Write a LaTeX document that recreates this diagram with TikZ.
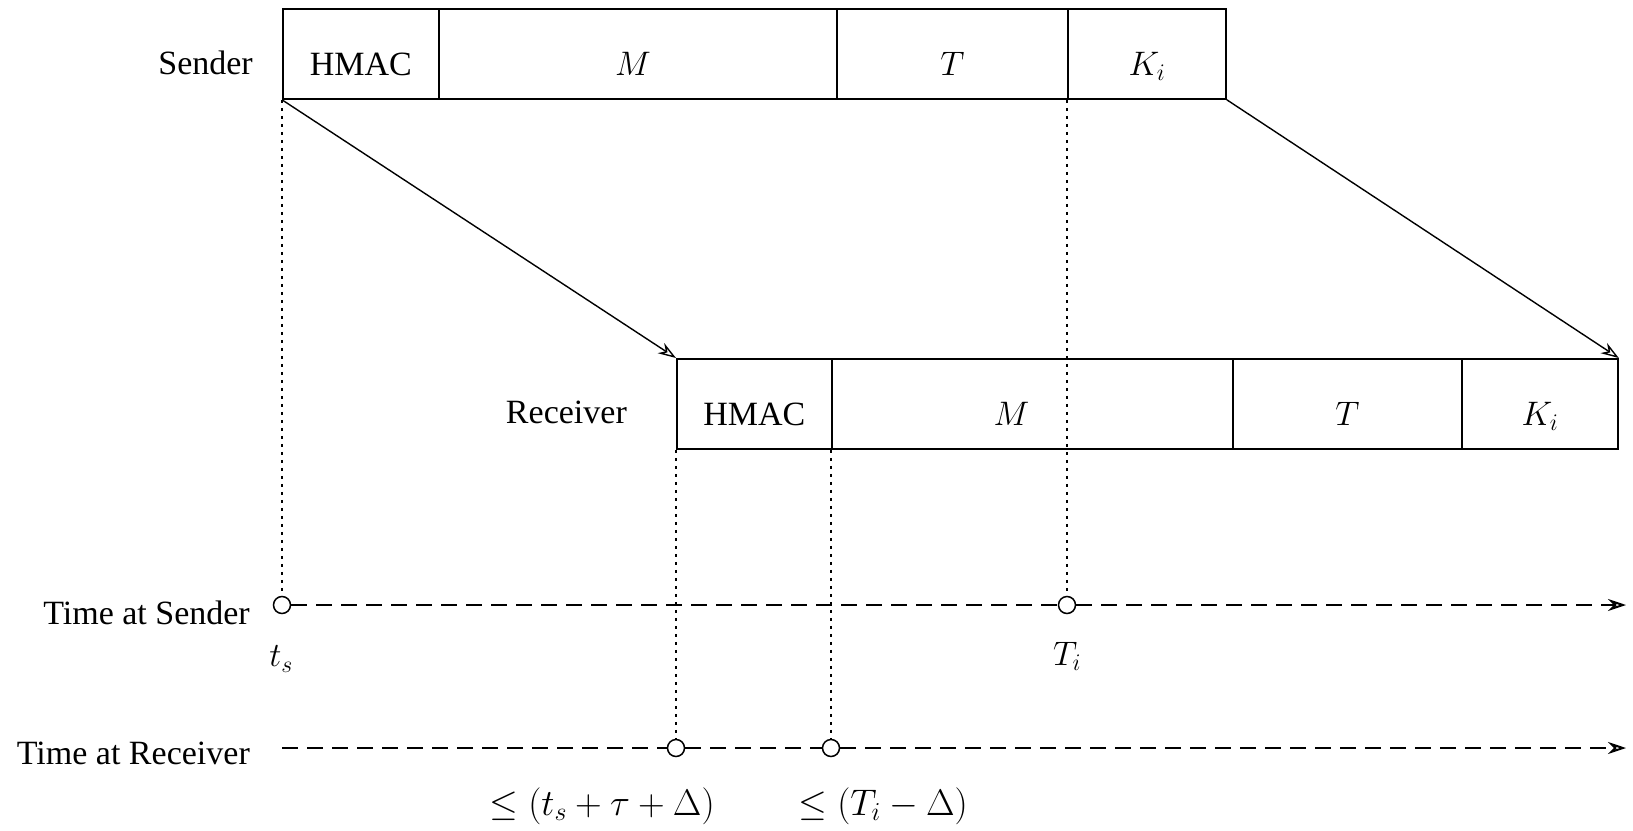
\RequirePackage{fix-cm}
\documentclass[tikz,border=0pt]{standalone}
\usepackage{fontspec}
\setmainfont{Liberation Serif}
\usetikzlibrary{arrows.meta}
\begin{document}
\begin{tikzpicture}[x=1pt,y=-1pt,
  every node/.style={font=\fontsize{34}{40}\selectfont},
  cell/.style={draw, line width=1.8pt, inner sep=0pt, minimum height=90pt, text height=43pt, text depth=0pt, anchor=north west},
  lab/.style={inner sep=0pt},
  big/.style={lab, font=\fontsize{37}{44}\selectfont},
  tick/.style={draw, circle, line width=1.5pt, minimum size=17pt, inner sep=0pt},
  vdot/.style={line width=2pt, dash pattern=on 3pt off 5pt},
  tdash/.style={line width=2pt, dash pattern=on 16pt off 9pt},
  tline/.style={tdash, -{Stealth[open,length=18pt,width=12pt]}},
  msg/.style={line width=1.4pt, -{Stealth[open,length=18pt,width=12pt]}}]
\useasboundingbox (0,0) rectangle (1633,830);
% sender
\node[cell, minimum width=156pt] (sh) at (282,8) {HMAC};
\node[cell, minimum width=398pt] (sm) at (438,8) {\hspace*{-10pt}$M$};
\node[cell, minimum width=231pt] (st) at (836,8) {$T$};
\node[cell, minimum width=158pt] (sk) at (1067,8) {$K_i$};
\node[lab, anchor=east] (sl) at (253,63) {Sender};
% receiver
\node[cell, minimum width=155pt] (rh) at (676,358) {HMAC};
\node[cell, minimum width=401pt] (rm) at (831,358) {\hspace*{-42pt}$M$};
\node[cell, minimum width=229pt] (rt) at (1232,358) {$T$};
\node[cell, minimum width=156pt] (rk) at (1461,358) {$K_i$};
\node[lab, anchor=east] (rl) at (627,412) {Receiver};
% messages
\draw[msg] (sh.south west) -- (rh.north west);
\draw[msg] (sk.south east) -- (rk.north east);
% time at sender
\node[lab, anchor=east] (tsl) at (250,613) {Time at Sender};
\node[tick] (c1) at (282,605) {};
\node[tick] (c2) at (1067,605) {};
\coordinate (e1) at (1626,605);
\draw[tdash] (c1.east) -- (c2.west);
\draw[tline] (c2.east) -- (e1);
\node[lab] (tsv) at (281,659) {$t_s$};
\node[lab] (tiv) at (1067,656) {$T_i$};
% time at receiver
\node[lab, anchor=east] (trl) at (250,753) {Time at Receiver};
\coordinate (b2) at (282,748);
\node[tick] (c3) at (676,748) {};
\node[tick] (c4) at (831,748) {};
\coordinate (e2) at (1626,748);
\draw[tdash] (b2) -- (c3.west);
\draw[tdash] (c3.east) -- (c4.west);
\draw[tline] (c4.east) -- (e2);
\node[big] (l3) at (602,806) {$\leq (t_s + \tau + \Delta)$};
\node[big] (l4) at (883,806) {$\leq (T_i - \Delta)$};
% dotted verticals
\draw[vdot] (sh.south west) -- (c1.north);
\draw[vdot] (sk.south west) -- (c2.north);
\draw[vdot] (rh.south west) -- (c3.north);
\draw[vdot] (rm.south west) -- (c4.north);
\end{tikzpicture}
\end{document}
